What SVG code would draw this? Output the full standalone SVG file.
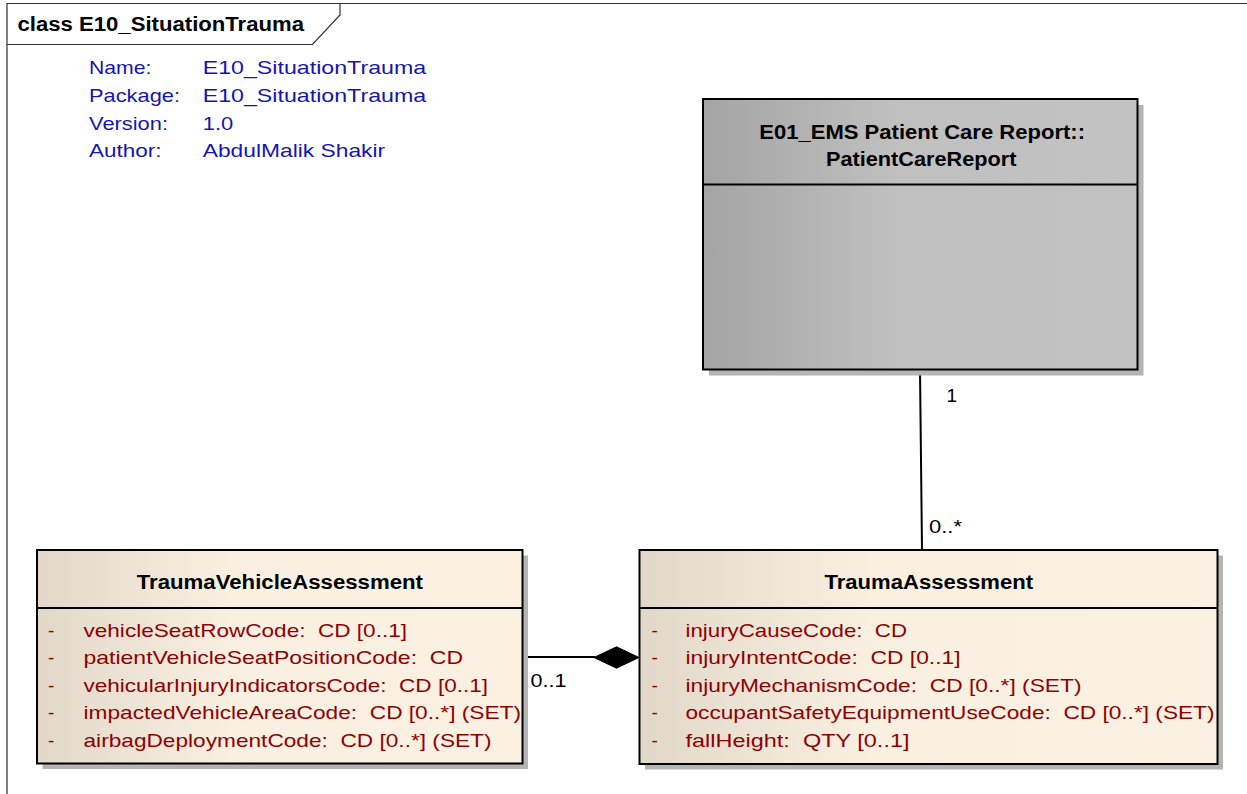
<svg xmlns="http://www.w3.org/2000/svg" width="1247" height="794" viewBox="0 0 1247 794">
<style>
text{font-family:"Liberation Sans",Arial,sans-serif;white-space:pre;}
.frame{fill:none;stroke:#303030;stroke-width:1.2;}
.ttl{font-size:19.5px;font-weight:bold;fill:#000;}
.meta{font-size:19px;fill:#1515B0;}
.box{stroke:#000;stroke-width:2;}
.sep{stroke:#000;stroke-width:2;}
.shadow{fill:#b4b4b4;}
.cls{font-size:19.5px;font-weight:bold;fill:#000;}
.attr{font-size:19px;fill:#900000;}
.conn{stroke:#000;stroke-width:2;fill:none;}
.lbl{font-size:19px;fill:#000;}
</style>
<defs>
<linearGradient id="gGray" x1="0" y1="0" x2="1" y2="0">
<stop offset="0" stop-color="#a4a4a4"/>
<stop offset="0.45" stop-color="#c0c0c0"/>
<stop offset="1" stop-color="#c2c2c2"/>
</linearGradient>
<linearGradient id="gCream" x1="0" y1="0" x2="1" y2="0">
<stop offset="0" stop-color="#e2d8ca"/>
<stop offset="0.4" stop-color="#faf0e2"/>
<stop offset="1" stop-color="#fbf1e3"/>
</linearGradient>
</defs>
<rect width="1247" height="794" fill="#fff"/>

<g id="frame">
<path class="frame" d="M7,794 V3.5 H1247"/>
<path class="frame" d="M7,44.5 H312.5 L340,15 V3.5"/>
<text class="ttl" x="17.5" y="30.5" textLength="286.5" lengthAdjust="spacingAndGlyphs">class E10_SituationTrauma</text>
<text class="meta" x="89" y="74" textLength="62.5" lengthAdjust="spacingAndGlyphs">Name:</text>
<text class="meta" x="89" y="101.5" textLength="91" lengthAdjust="spacingAndGlyphs">Package:</text>
<text class="meta" x="89" y="129.5" textLength="79" lengthAdjust="spacingAndGlyphs">Version:</text>
<text class="meta" x="89" y="157" textLength="72.5" lengthAdjust="spacingAndGlyphs">Author:</text>
<text class="meta" x="202.7" y="74" textLength="223.5" lengthAdjust="spacingAndGlyphs">E10_SituationTrauma</text>
<text class="meta" x="202.7" y="101.5" textLength="223.5" lengthAdjust="spacingAndGlyphs">E10_SituationTrauma</text>
<text class="meta" x="202.7" y="129.5" textLength="30.5" lengthAdjust="spacingAndGlyphs">1.0</text>
<text class="meta" x="202.7" y="157" textLength="182.5" lengthAdjust="spacingAndGlyphs">AbdulMalik Shakir</text>
</g>

<g id="connectors">
<line class="conn" x1="920" y1="370" x2="922" y2="549"/>
<text class="lbl" x="946.5" y="401.5">1</text>
<text class="lbl" x="929" y="533" textLength="33" lengthAdjust="spacingAndGlyphs">0..*</text>
<line class="conn" x1="523" y1="657" x2="595" y2="657"/>
<polygon points="594,657.5 616.5,646.8 639,657.5 616.5,668.2" fill="#000" stroke="#000" stroke-width="1"/>
<text class="lbl" x="530.5" y="687" textLength="36" lengthAdjust="spacingAndGlyphs">0..1</text>
</g>

<g id="PatientCareReport">
<rect class="shadow" x="709" y="105" width="434.5" height="270.5"/>
<rect class="box" x="703" y="99" width="434.5" height="270.5" fill="url(#gGray)"/>
<line class="sep" x1="703" y1="184.5" x2="1137.5" y2="184.5"/>
<text class="cls" x="759.3" y="138.5" textLength="325.7" lengthAdjust="spacingAndGlyphs">E01_EMS Patient Care Report::</text>
<text class="cls" x="826" y="166" textLength="190.5" lengthAdjust="spacingAndGlyphs">PatientCareReport</text>
</g>

<g id="TraumaVehicleAssessment">
<rect class="shadow" x="42.5" y="555.5" width="485.5" height="213.5"/>
<rect class="box" x="37" y="550" width="485.5" height="213.5" fill="url(#gCream)"/>
<line class="sep" x1="37" y1="608" x2="522.5" y2="608"/>
<text class="cls" x="136.7" y="589" textLength="286.3" lengthAdjust="spacingAndGlyphs">TraumaVehicleAssessment</text>
<text class="attr" x="48" y="636.5">-</text>
<text class="attr" x="48" y="664">-</text>
<text class="attr" x="48" y="691.5">-</text>
<text class="attr" x="48" y="719">-</text>
<text class="attr" x="48" y="746.5">-</text>
<text class="attr" x="83.5" y="636.5" textLength="323.5" lengthAdjust="spacingAndGlyphs">vehicleSeatRowCode:  CD [0..1]</text>
<text class="attr" x="83.5" y="664" textLength="379.5" lengthAdjust="spacingAndGlyphs">patientVehicleSeatPositionCode:  CD</text>
<text class="attr" x="83.5" y="691.5" textLength="404.5" lengthAdjust="spacingAndGlyphs">vehicularInjuryIndicatorsCode:  CD [0..1]</text>
<text class="attr" x="83.5" y="719" textLength="437.5" lengthAdjust="spacingAndGlyphs">impactedVehicleAreaCode:  CD [0..*] (SET)</text>
<text class="attr" x="83.5" y="746.5" textLength="408" lengthAdjust="spacingAndGlyphs">airbagDeploymentCode:  CD [0..*] (SET)</text>
</g>

<g id="TraumaAssessment">
<rect class="shadow" x="645" y="555.5" width="578" height="214"/>
<rect class="box" x="639.5" y="550" width="578" height="214" fill="url(#gCream)"/>
<line class="sep" x1="639.5" y1="608" x2="1217.5" y2="608"/>
<text class="cls" x="824.5" y="589" textLength="208.5" lengthAdjust="spacingAndGlyphs">TraumaAssessment</text>
<text class="attr" x="651.5" y="636.5">-</text>
<text class="attr" x="651.5" y="664">-</text>
<text class="attr" x="651.5" y="691.5">-</text>
<text class="attr" x="651.5" y="719">-</text>
<text class="attr" x="651.5" y="746.5">-</text>
<text class="attr" x="685.5" y="636.5" textLength="221.5" lengthAdjust="spacingAndGlyphs">injuryCauseCode:  CD</text>
<text class="attr" x="685.5" y="664" textLength="275" lengthAdjust="spacingAndGlyphs">injuryIntentCode:  CD [0..1]</text>
<text class="attr" x="685.5" y="691.5" textLength="396" lengthAdjust="spacingAndGlyphs">injuryMechanismCode:  CD [0..*] (SET)</text>
<text class="attr" x="685.5" y="719" textLength="529" lengthAdjust="spacingAndGlyphs">occupantSafetyEquipmentUseCode:  CD [0..*] (SET)</text>
<text class="attr" x="685.5" y="746.5" textLength="224" lengthAdjust="spacingAndGlyphs">fallHeight:  QTY [0..1]</text>
</g>
</svg>
